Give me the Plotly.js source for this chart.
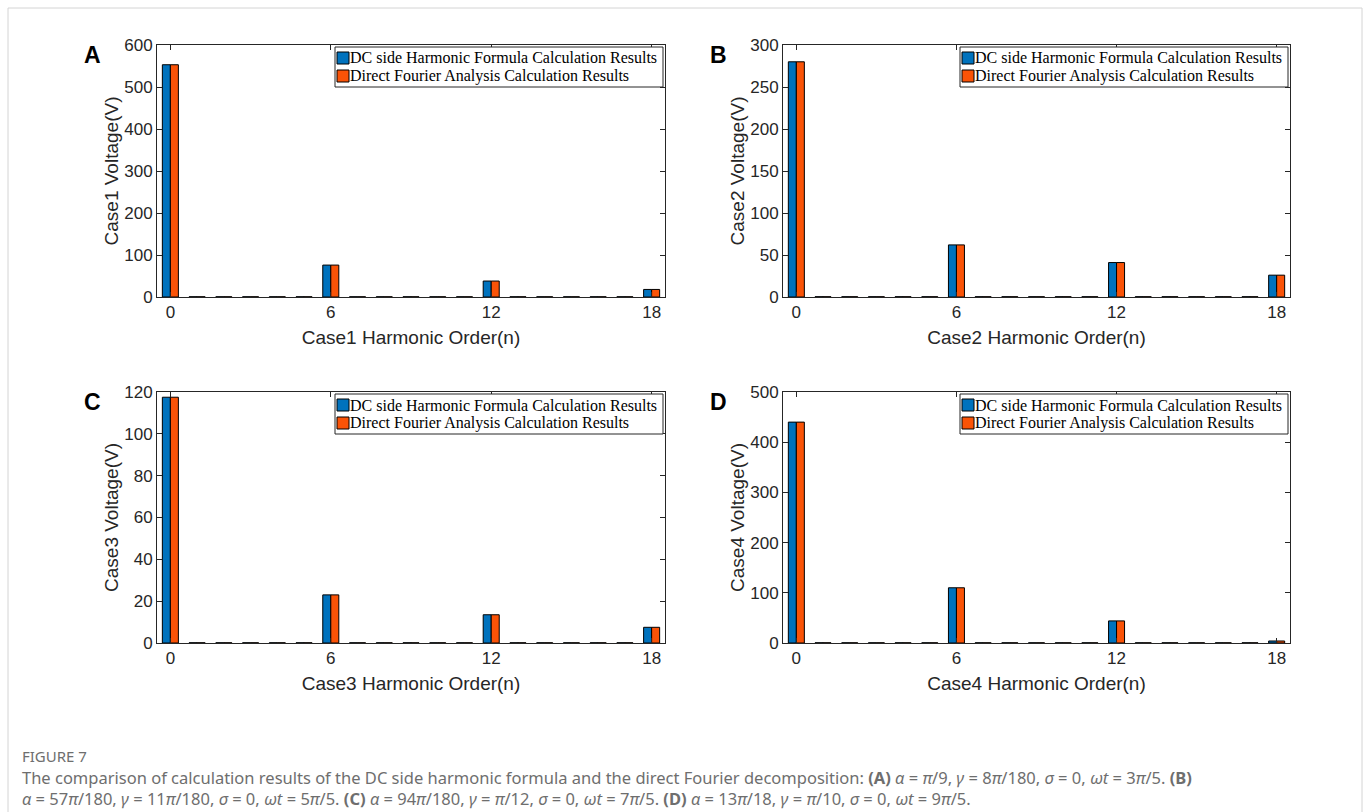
<!DOCTYPE html>
<html><head><meta charset="utf-8">
<script src="https://cdn.plot.ly/plotly-3.0.1.min.js"></script>
<style>html,body{margin:0;padding:0;background:#fff;}#chart{width:1370px;height:812px;}</style>
</head><body><div id="chart"></div>
<script>
// Harmonic orders 0..18
const harmonicOrders = [0,1,2,3,4,5,6,7,8,9,10,11,12,13,14,15,16,17,18];
const xTickVals = [0, 6, 12, 18];

// Case 1 (A)
const case1Formula = [553,0.5,0.5,0.5,0.5,0.5,76,0.5,0.5,0.5,0.5,0.5,38,0.5,0.5,0.5,0.5,0.5,18];
const case1Fourier = [553,0.5,0.5,0.5,0.5,0.5,76,0.5,0.5,0.5,0.5,0.5,38,0.5,0.5,0.5,0.5,0.5,18];
// Case 2 (B)
const case2Formula = [280,0.3,0.3,0.3,0.3,0.3,62,0.3,0.3,0.3,0.3,0.3,41,0.3,0.3,0.3,0.3,0.3,26];
const case2Fourier = [280,0.3,0.3,0.3,0.3,0.3,62,0.3,0.3,0.3,0.3,0.3,41,0.3,0.3,0.3,0.3,0.3,26];
// Case 3 (C)
const case3Formula = [117.5,0.1,0.1,0.1,0.1,0.1,23,0.1,0.1,0.1,0.1,0.1,13.5,0.1,0.1,0.1,0.1,0.1,7.5];
const case3Fourier = [117.5,0.1,0.1,0.1,0.1,0.1,23,0.1,0.1,0.1,0.1,0.1,13.5,0.1,0.1,0.1,0.1,0.1,7.5];
// Case 4 (D)
const case4Formula = [440,0.4,0.4,0.4,0.4,0.4,110,0.4,0.4,0.4,0.4,0.4,44,0.4,0.4,0.4,0.4,0.4,4];
const case4Fourier = [440,0.4,0.4,0.4,0.4,0.4,110,0.4,0.4,0.4,0.4,0.4,44,0.4,0.4,0.4,0.4,0.4,4];

const seriesNames = ['DC side Harmonic Formula Calculation Results', 'Direct Fourier Analysis Calculation Results'];
const panelLetters = ['A','B','C','D'];
const caseNames = ['Case1','Case2','Case3','Case4'];
const yRanges = [[0,600],[0,300],[0,120],[0,500]];
const yDtick = [100,50,20,100];

const W = 1370, H = 812;
const px = v => v / W, py = v => 1 - v / H;
const panels = [
  {x0:157, x1:665, y0:45, y1:297},
  {x0:783, x1:1290, y0:45, y1:297},
  {x0:157, x1:665, y0:392, y1:643},
  {x0:783, x1:1290, y0:392, y1:643}
];
const formulaData = [case1Formula, case2Formula, case3Formula, case4Formula];
const fourierData = [case1Fourier, case2Fourier, case3Fourier, case4Fourier];
const colors = ['#0072BD', '#FA5307'];

const traces = [];
const layout = {
  width: W, height: H,
  margin: {l:0, r:0, t:0, b:0},
  paper_bgcolor: '#fff', plot_bgcolor: '#fff',
  barmode: 'group', bargap: 0.4, bargroupgap: 0,
  font: {family: 'Liberation Sans, Arial, sans-serif', color: '#262626'},
  showlegend: false,
  annotations: [], shapes: []
};
const legendFont = {family: 'Liberation Serif, Times New Roman, serif', size: 16, color: '#000'};

panels.forEach((p, i) => {
  const n = i + 1;
  const xa = 'x' + (n === 1 ? '' : n), ya = 'y' + (n === 1 ? '' : n);
  [formulaData[i], fourierData[i]].forEach((vals, k) => {
    traces.push({
      type: 'bar', x: harmonicOrders, y: vals, name: seriesNames[k],
      xaxis: xa, yaxis: ya,
      marker: {color: colors[k], line: {color: '#000', width: 1}},
      hoverinfo: 'x+y'
    });
  });
  const axKey = n === 1 ? '' : n;
  layout['xaxis' + axKey] = {
    domain: [px(p.x0), px(p.x1)], anchor: ya,
    range: [-0.5, 18.5], tickmode: 'array', tickvals: xTickVals,
    ticks: 'inside', ticklen: 5, tickcolor: '#262626',
    showline: true, linecolor: '#262626', linewidth: 1, mirror: 'ticks',
    showgrid: false, zeroline: false,
    tickfont: {size: 17, color: '#262626'},
    title: {text: caseNames[i] + ' Harmonic Order(n)', font: {size: 19, color: '#262626'}, standoff: 9}
  };
  layout['yaxis' + axKey] = {
    domain: [py(p.y1), py(p.y0)], anchor: xa,
    range: yRanges[i], dtick: yDtick[i],
    ticks: 'inside', ticklen: 5, tickcolor: '#262626',
    showline: true, linecolor: '#262626', linewidth: 1, mirror: 'ticks',
    showgrid: false, zeroline: false,
    tickfont: {size: 17, color: '#262626'},
    title: {text: caseNames[i] + ' Voltage(V)', font: {size: 19, color: '#262626'}, standoff: 0}
  };
  // custom legend box
  const lx1 = p.x1 - 2, lx0 = p.x1 - 330, ly0 = p.y0 + 2, ly1 = p.y0 + 42;
  layout.shapes.push({type:'rect', xref:'paper', yref:'paper', x0: px(lx0), x1: px(lx1), y0: py(ly1), y1: py(ly0),
    line: {color: '#262626', width: 1}, fillcolor: '#fff', layer: 'above'});
  [ly0 + 11, ly0 + 29].forEach((cy, k) => {
    layout.shapes.push({type:'rect', xref:'paper', yref:'paper', x0: px(lx0 + 2), x1: px(lx0 + 14), y0: py(cy + 6), y1: py(cy - 6),
      line: {color: '#000', width: 1}, fillcolor: colors[k], layer: 'above'});
    layout.annotations.push({xref:'paper', yref:'paper', x: px(lx0 + 13), y: py(cy), xanchor:'left', yanchor:'middle',
      showarrow:false, text: seriesNames[k], font: legendFont});
  });
  layout.annotations.push({
    xref: 'paper', yref: 'paper', x: px(p.x0 - 65), y: py(p.y0 + 10),
    xanchor: 'center', yanchor: 'middle', showarrow: false,
    text: '<b>' + panelLetters[i] + '</b>',
    font: {family: 'Liberation Sans, Arial, sans-serif', size: 23, color: '#000'}
  });
});

// caption
const captionFont = {family: 'Noto Sans, sans-serif', size: 16.5, color: '#6e6e6e'};
layout.annotations.push({
  xref:'paper', yref:'paper', x: px(20), y: py(756), xanchor:'left', yanchor:'middle', showarrow:false,
  text: 'FIGURE 7', font: {family: 'Noto Sans, sans-serif', size: 15, color: '#6e6e6e'}
});
layout.annotations.push({
  xref:'paper', yref:'paper', x: px(20), y: py(777), xanchor:'left', yanchor:'middle', showarrow:false, align:'left',
  text: 'The comparison of calculation results of the DC side harmonic formula and the direct Fourier decomposition: <b>(A)</b> <i>α</i> = <i>π</i>/9, <i>γ</i> = 8<i>π</i>/180, <i>σ</i> = 0, <i>ωt</i> = 3<i>π</i>/5. <b>(B)</b>',
  font: captionFont
});
layout.annotations.push({
  xref:'paper', yref:'paper', x: px(20), y: py(798), xanchor:'left', yanchor:'middle', showarrow:false, align:'left',
  text: '<i>α</i> = 57<i>π</i>/180, <i>γ</i> = 11<i>π</i>/180, <i>σ</i> = 0, <i>ωt</i> = 5<i>π</i>/5. <b>(C)</b> <i>α</i> = 94<i>π</i>/180, <i>γ</i> = <i>π</i>/12, <i>σ</i> = 0, <i>ωt</i> = 7<i>π</i>/5. <b>(D)</b> <i>α</i> = 13<i>π</i>/18, <i>γ</i> = <i>π</i>/10, <i>σ</i> = 0, <i>ωt</i> = 9<i>π</i>/5.',
  font: captionFont
});
// outer frame
layout.shapes.push({type:'rect', xref:'paper', yref:'paper', x0: px(8), x1: px(1362), y0: -0.1, y1: py(8),
  line: {color: '#d4d4d4', width: 1}, fillcolor: 'rgba(0,0,0,0)', layer: 'below'});

Plotly.newPlot('chart', traces, layout, {staticPlot: true, displayModeBar: false});
</script></body></html>
